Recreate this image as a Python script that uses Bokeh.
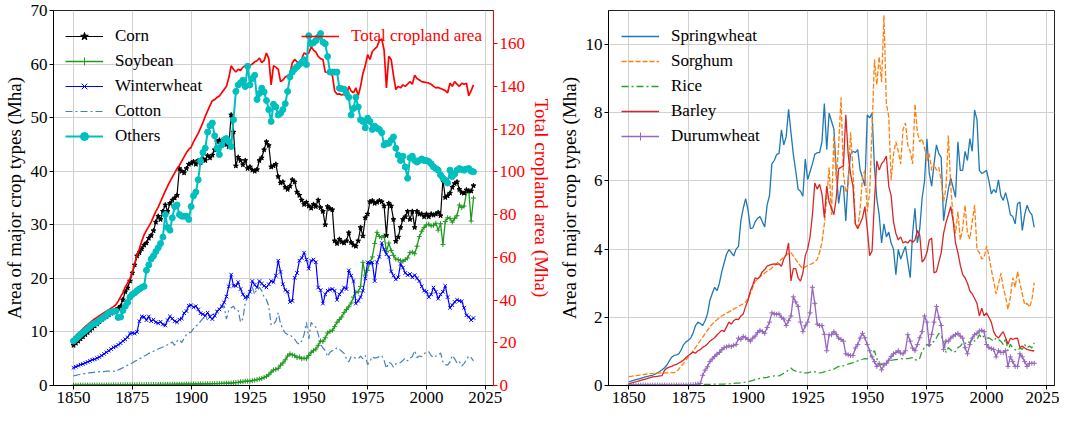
from bokeh.plotting import figure
from bokeh.models import Range1d, LinearAxis, Legend, LegendItem, FixedTicker
from bokeh.layouts import row
from bokeh.embed import file_html
from bokeh.resources import INLINE

# ---------------- data ----------------
years = list(range(1850, 2021))
x_ticks = [1850, 1875, 1900, 1925, 1950, 1975, 2000, 2025]

corn = [
    7.5, 7.9, 8.3, 8.7, 9.1, 9.5, 9.9, 10.3, 10.7, 11.1,
    11.5, 11.9, 12.3, 12.6, 12.9, 13.2, 13.5, 13.8, 14.1, 14.4,
    14.8, 16.0, 17.5, 18.2, 19.5, 21.0, 22.5, 24.2, 24.8, 25.5,
    26.2, 26.6, 27.5, 28.0, 28.9, 30.5, 31.6, 31.0, 32.5, 33.7,
    32.5, 34.0, 34.6, 35.0, 35.5, 40.5, 40.0, 39.7, 40.5, 41.3,
    41.5, 41.8, 41.3, 42.0, 41.6, 42.3, 42.0, 42.9, 42.5, 43.0,
    44.0, 45.5, 45.8, 45.2, 46.0, 45.0, 44.6, 50.5, 47.3, 41.0,
    42.6, 42.0, 41.2, 42.0, 40.5, 40.8, 40.2, 40.0, 40.3, 42.0,
    42.5, 44.0, 45.5, 44.8, 40.8, 41.0, 41.3, 39.0, 37.8, 38.0,
    37.0, 36.6, 37.2, 38.4, 38.0, 36.1, 35.5, 34.6, 33.8, 34.2,
    33.5, 33.1, 33.8, 33.4, 34.6, 33.2, 32.5, 30.0, 33.4, 33.0,
    32.8, 27.0, 26.5, 27.3, 26.8, 26.6, 27.0, 28.5, 26.7, 26.2,
    26.0, 27.0, 29.5, 27.9, 31.3, 32.0, 34.3, 34.5, 34.0, 34.2,
    34.5, 34.3, 33.5, 28.0, 34.0, 33.5, 31.0, 26.9, 27.7, 29.5,
    31.0, 31.5, 32.5, 31.0, 32.5, 29.5, 32.5, 32.0, 32.0, 31.5,
    32.0, 31.5, 32.0, 31.8, 32.0, 32.3, 31.7, 38.4, 35.1, 35.4,
    35.9, 37.0, 37.7, 38.0, 36.6, 36.0, 35.9, 36.5, 36.3, 36.3, 37.3,
]

soybean = [
    0.05, 0.05, 0.05, 0.06, 0.06, 0.06, 0.07, 0.07, 0.07, 0.08,
    0.08, 0.08, 0.09, 0.09, 0.09, 0.10, 0.10, 0.10, 0.11, 0.11,
    0.11, 0.12, 0.12, 0.12, 0.13, 0.13, 0.14, 0.14, 0.15, 0.15,
    0.16, 0.16, 0.17, 0.17, 0.18, 0.18, 0.19, 0.19, 0.20, 0.20,
    0.21, 0.21, 0.22, 0.22, 0.23, 0.23, 0.24, 0.25, 0.25, 0.26,
    0.27, 0.27, 0.28, 0.29, 0.29, 0.30, 0.31, 0.32, 0.33, 0.34,
    0.35, 0.36, 0.37, 0.38, 0.40, 0.42, 0.44, 0.46, 0.50, 0.55,
    0.6, 0.7, 0.7, 0.8, 0.8, 0.8, 0.9, 1.0, 1.1, 1.2,
    1.3, 1.5, 1.7, 2.0, 2.5, 2.9, 3.0, 3.2, 3.8, 4.2,
    4.8, 5.5, 5.9, 5.7, 5.6, 5.2, 5.3, 5.0, 5.1, 5.0,
    5.6, 6.2, 6.5, 6.8, 7.5, 8.3, 8.2, 8.9, 9.8, 10.1,
    10.3, 11.0, 11.8, 12.3, 12.8, 13.6, 14.2, 14.7, 15.4, 16.5,
    17.4, 17.5, 18.5, 23.0, 20.6, 21.5, 23.0, 24.0, 26.5, 28.6,
    27.8, 27.6, 28.0, 25.0, 26.6, 25.2, 24.3, 23.6, 23.5, 23.3,
    23.2, 23.5, 23.8, 24.8, 24.9, 24.6, 26.0, 27.8, 28.8, 29.5,
    30.0, 30.1, 29.8, 29.9, 30.3, 29.0, 30.2, 26.3, 30.6, 31.3,
    31.2, 30.5, 31.2, 31.7, 33.7, 33.2, 33.5, 36.0, 36.3, 30.7, 35.0,
]

winterwheat = [
    3.3, 3.5, 3.7, 3.9, 4.0, 4.2, 4.4, 4.6, 4.8, 4.9,
    5.1, 5.3, 5.6, 5.9, 6.2, 6.5, 6.8, 7.1, 7.3, 7.6,
    7.9, 8.3, 8.6, 9.0, 9.7, 9.8, 9.7, 10.0, 12.0, 12.9,
    12.8, 12.2, 12.9, 12.0, 12.3, 11.8, 11.6, 11.9, 11.4, 11.2,
    12.2, 12.9, 12.5, 12.0, 11.8, 12.3, 12.5, 13.5, 13.9, 14.9,
    15.0, 14.6, 14.8, 14.2, 13.5, 13.3, 13.0, 13.6, 12.8, 12.4,
    13.0, 13.8, 14.2, 14.8, 15.5, 16.6, 18.5, 20.7, 18.6, 18.6,
    19.3, 18.0, 17.0, 16.4, 16.6, 17.5, 19.5, 18.8, 18.3, 19.5,
    19.0, 18.6, 18.3, 18.9, 19.5, 19.3, 20.5, 23.3, 21.2, 18.9,
    17.8, 17.5, 15.6, 15.8, 20.1, 21.0, 23.3, 23.8, 24.8, 23.5,
    21.8, 23.3, 23.5, 23.0, 18.3, 17.8, 15.3, 17.0, 17.7, 17.9,
    18.0, 17.7, 16.0, 17.0, 17.6, 18.3, 18.0, 21.5, 20.5, 19.5,
    15.3, 15.8, 16.5, 17.7, 20.0, 23.0, 22.8, 23.0, 19.5, 23.0,
    24.0, 26.6, 25.4, 24.5, 24.0, 21.3, 20.5, 19.8, 20.2, 22.7,
    22.0, 21.0, 20.6, 20.8, 20.2, 20.6, 20.0, 19.5, 18.5, 17.7,
    17.5, 16.5, 17.0, 18.3, 17.5, 16.2, 17.0, 17.5, 18.6, 16.5,
    14.5, 15.0, 15.6, 16.0, 15.8, 15.7, 14.5, 13.1, 12.8, 12.2, 12.6,
]

cotton = [
    1.8, 1.9, 2.0, 2.1, 2.2, 2.2, 2.3, 2.4, 2.4, 2.5,
    2.5, 2.6, 2.6, 2.6, 2.7, 2.7, 2.7, 2.7, 2.6, 2.9,
    3.1, 3.3, 3.5, 3.8, 4.0, 4.2, 4.5, 4.7, 5.0, 5.2,
    5.5, 5.7, 6.0, 6.2, 6.4, 6.6, 6.8, 7.0, 7.2, 7.4,
    7.6, 7.9, 8.1, 7.5, 8.3, 8.6, 8.0, 8.8, 9.5, 9.8,
    10.0, 10.6, 11.1, 11.4, 12.0, 12.5, 12.8, 12.2, 13.0, 13.2,
    13.5, 14.0, 14.3, 14.6, 14.9, 12.4, 14.0, 14.5, 14.8, 14.0,
    14.0, 11.8, 12.5, 15.5, 16.4, 18.0, 18.3, 17.0, 18.1, 18.3,
    17.7, 16.5, 16.0, 14.8, 11.3, 11.5, 12.0, 13.6, 11.5, 10.5,
    9.8, 9.5, 9.5, 9.0, 8.6, 8.0, 7.7, 8.3, 9.5, 11.8,
    8.7, 11.8, 11.2, 10.9, 9.6, 7.7, 7.0, 6.5, 5.4, 6.2,
    6.5, 6.6, 7.1, 6.8, 6.4, 6.0, 5.0, 4.4, 5.4, 5.3,
    5.1, 5.0, 5.5, 5.0, 5.6, 3.9, 4.5, 5.4, 5.1, 5.2,
    5.4, 5.6, 4.7, 3.2, 4.3, 4.1, 3.4, 4.1, 4.1, 4.3,
    4.7, 5.1, 4.6, 5.1, 5.4, 6.5, 5.2, 5.5, 5.4, 5.9,
    6.3, 6.3, 5.6, 5.2, 5.5, 5.6, 6.1, 4.4, 3.9, 3.8,
    4.4, 5.6, 5.0, 4.2, 4.5, 3.6, 4.1, 4.8, 5.5, 5.2, 4.6,
]

others = [
    8.3, 8.7, 9.1, 9.5, 9.9, 10.2, 10.6, 11.0, 11.4, 11.6,
    11.8, 12.2, 12.5, 12.8, 13.1, 13.6, 13.7, 13.8, 13.9, 12.7,
    12.8, 14.0, 14.8, 15.5, 16.5, 17.0, 17.3, 17.7, 18.0, 18.3,
    18.5, 21.5, 22.5, 23.6, 24.2, 25.0, 25.7, 26.5, 27.7, 31.9,
    29.5, 29.0, 31.3, 33.4, 33.7, 31.9, 31.6, 31.6, 31.6, 31.0,
    33.4, 35.4, 36.1, 38.4, 41.9, 43.5, 44.3, 47.3, 48.5, 49.0,
    46.6, 44.3, 43.1, 44.9, 45.8, 46.1, 45.5, 44.6, 49.6, 54.9,
    56.1, 56.5, 57.0, 55.8, 59.6, 56.1, 57.3, 57.9, 53.4, 54.5,
    55.5, 54.8, 53.2, 51.5, 49.3, 52.5, 52.0, 50.5, 50.8, 51.5,
    52.6, 54.9, 57.6, 58.5, 59.1, 59.5, 59.9, 60.3, 60.8, 59.9,
    65.3, 63.8, 64.0, 64.4, 65.0, 65.7, 64.1, 63.8, 61.4, 58.5,
    58.5, 58.5, 58.5, 55.5, 55.4, 55.3, 54.5, 53.8, 50.5, 51.7,
    53.8, 52.0, 49.6, 49.3, 48.1, 49.9, 49.3, 47.8, 48.4, 48.0,
    47.8, 47.2, 44.9, 45.2, 45.2, 45.8, 46.4, 44.3, 43.0, 42.0,
    42.8, 40.8, 38.7, 42.5, 42.8, 42.0, 41.7, 42.0, 42.3, 42.0,
    42.0, 41.8, 41.4, 40.8, 40.5, 40.2, 39.3, 38.7, 38.3, 37.8,
    40.2, 39.0, 39.5, 40.2, 40.5, 40.3, 40.2, 40.4, 40.5, 40.0, 39.9,
]

total_cropland = [
    22.2, 23.3, 24.4, 25.5, 26.5, 27.5, 28.5, 29.4, 30.3, 31.1,
    31.9, 32.7, 33.4, 34.1, 34.8, 35.5, 36.2, 36.9, 37.8, 39.5,
    41.5, 43.5, 46.0, 48.0, 50.0, 53.0, 57.0, 61.0, 64.0, 67.5,
    70.5, 72.6, 74.5, 76.5, 79.0, 81.5, 83.5, 86.0, 88.5, 91.0,
    93.3, 95.5, 97.5, 99.5, 101.5, 103.0, 105.0, 107.0, 109.0, 110.5,
    111.5, 114.0, 116.0, 118.0, 120.5, 123.0, 126.0, 128.5, 131.0, 133.3,
    133.8, 134.8, 135.5, 137.0, 138.5, 140.0, 144.0, 149.6, 148.0, 146.7,
    148.0, 147.4, 149.0, 149.6, 149.8, 150.0, 150.4, 151.5, 152.0, 153.3,
    151.1, 152.0, 155.6, 153.0, 140.7, 149.6, 149.0, 148.0, 142.2, 143.0,
    144.4, 145.0, 146.0, 151.0, 152.6, 151.5, 151.0, 153.0, 155.6, 155.0,
    155.6, 158.5, 157.0, 156.0, 154.0, 153.0, 152.6, 146.7, 146.5, 146.0,
    145.2, 137.8, 136.3, 136.5, 136.0, 136.3, 135.6, 140.0, 137.8, 137.0,
    139.3, 135.6, 140.0, 146.0, 149.6, 154.8, 152.6, 156.3, 157.5, 158.5,
    161.5, 162.2, 157.0, 139.3, 154.1, 152.6, 145.0, 138.5, 140.0, 139.3,
    140.7, 140.0, 141.0, 142.2, 141.0, 145.2, 143.7, 143.0, 142.2, 142.0,
    141.8, 141.5, 141.0, 140.0, 139.3, 139.5, 139.0, 138.5, 138.0, 137.0,
    141.5, 140.0, 142.2, 141.0, 140.0, 141.5, 141.0, 141.5, 135.6, 138.0, 140.7,
]

springwheat = [
    0.11, 0.13, 0.15, 0.17, 0.19, 0.21, 0.23, 0.25, 0.27, 0.29,
    0.30, 0.33, 0.37, 0.41, 0.46, 0.52, 0.60, 0.72, 0.83, 0.88,
    0.90, 0.93, 1.05, 1.20, 1.28, 1.33, 1.39, 1.55, 1.76, 1.86,
    1.82, 1.76, 1.90, 2.10, 2.50, 2.70, 2.88, 2.78, 3.00, 3.34,
    3.60, 3.85, 3.99, 3.90, 3.80, 4.00, 4.08, 4.83, 5.20, 5.48,
    5.15, 4.60, 4.62, 4.80, 4.90, 4.96, 4.80, 4.65, 5.29, 5.57,
    6.50, 6.60, 6.78, 6.80, 7.50, 7.06, 7.30, 8.10, 7.43, 6.78,
    6.30, 5.76, 5.70, 5.55, 6.64, 6.04, 6.27, 6.50, 6.78, 6.83,
    6.83, 7.15, 8.27, 6.92, 7.99, 7.75, 7.52, 6.30, 5.34, 5.85,
    5.85, 4.83, 6.10, 6.78, 6.87, 6.83, 6.92, 6.32, 6.10, 5.85,
    7.94, 7.85, 7.99, 6.41, 5.48, 5.00, 4.18, 4.74, 4.36, 4.50,
    4.18, 4.00, 3.25, 3.99, 3.71, 3.90, 4.08, 3.62, 3.16, 4.46,
    5.20, 4.18, 4.60, 5.50, 5.99, 7.24, 6.22, 5.85, 6.50, 7.06,
    6.80, 6.69, 4.83, 5.34, 5.76, 6.08, 5.80, 5.52, 7.15, 6.31,
    6.31, 6.87, 6.60, 7.24, 6.87, 8.08, 7.80, 6.31, 6.22, 6.26,
    6.31, 6.00, 5.62, 5.75, 5.66, 6.03, 5.57, 5.43, 5.66, 5.38,
    5.01, 4.96, 4.74, 5.34, 5.38, 4.55, 5.01, 5.29, 5.10, 5.01, 4.64,
]

sorghum = [
    0.26, 0.27, 0.28, 0.29, 0.30, 0.31, 0.32, 0.33, 0.34, 0.35,
    0.35, 0.36, 0.36, 0.37, 0.37, 0.37, 0.37, 0.37, 0.38, 0.38,
    0.40, 0.48, 0.57, 0.65, 0.75, 0.84, 0.93, 1.02, 1.12, 1.22,
    1.32, 1.42, 1.52, 1.62, 1.72, 1.80, 1.87, 1.93, 1.99, 2.04,
    2.08, 2.12, 2.16, 2.20, 2.24, 2.28, 2.32, 2.36, 2.40, 2.45,
    2.55, 2.70, 2.88, 3.06, 3.12, 3.18, 3.24, 3.30, 3.35, 3.39,
    3.45, 3.51, 3.58, 3.64, 3.70, 3.76, 3.82, 3.88, 3.90, 3.80,
    3.70, 3.60, 3.50, 3.43, 3.48, 3.52, 3.55, 3.58, 3.62, 3.70,
    3.90, 4.20, 4.74, 5.50, 6.40, 5.00, 7.33, 6.00, 7.05, 8.45,
    6.22, 5.66, 5.85, 7.43, 6.31, 4.74, 4.64, 5.15, 6.13, 6.31,
    5.10, 5.66, 7.50, 9.56, 8.82, 9.65, 8.90, 10.86, 8.26, 7.89,
    6.03, 6.78, 7.15, 6.87, 6.50, 7.52, 7.70, 7.05, 6.87, 6.50,
    8.26, 7.43, 7.15, 7.24, 6.96, 6.59, 6.80, 6.31, 6.50, 6.31,
    6.40, 6.00, 5.39, 5.80, 7.33, 5.85, 4.92, 4.46, 5.10, 4.27,
    4.60, 5.29, 4.46, 4.30, 4.80, 5.29, 3.99, 3.90, 3.71, 3.75,
    4.09, 3.81, 3.40, 3.06, 2.69, 2.97, 3.29, 2.88, 2.60, 2.23,
    2.60, 3.16, 2.88, 3.34, 3.00, 2.69, 2.37, 2.41, 2.30, 2.50, 3.02,
]

rice = [
    0.01, 0.01, 0.01, 0.01, 0.01, 0.01, 0.01, 0.01, 0.01, 0.01,
    0.01, 0.01, 0.01, 0.01, 0.01, 0.01, 0.01, 0.01, 0.01, 0.01,
    0.01, 0.01, 0.01, 0.01, 0.01, 0.02, 0.02, 0.02, 0.02, 0.02,
    0.02, 0.02, 0.03, 0.03, 0.03, 0.03, 0.04, 0.04, 0.04, 0.04,
    0.04, 0.05, 0.05, 0.06, 0.06, 0.07, 0.07, 0.08, 0.09, 0.10,
    0.11, 0.13, 0.15, 0.17, 0.19, 0.21, 0.22, 0.23, 0.24, 0.26,
    0.27, 0.28, 0.28, 0.28, 0.32, 0.36, 0.40, 0.46, 0.51, 0.45,
    0.42, 0.40, 0.39, 0.38, 0.37, 0.37, 0.39, 0.42, 0.40, 0.38,
    0.37, 0.38, 0.40, 0.42, 0.44, 0.46, 0.48, 0.52, 0.56, 0.55,
    0.58, 0.60, 0.63, 0.65, 0.67, 0.70, 0.72, 0.74, 0.77, 0.79,
    0.78, 0.84, 0.92, 1.02, 0.79, 0.60, 0.62, 0.65, 0.68, 0.71,
    0.74, 0.75, 0.76, 0.77, 0.79, 0.78, 0.79, 0.79, 0.80, 0.82,
    0.76, 0.74, 0.80, 1.02, 1.11, 1.21, 1.15, 1.25, 1.30, 1.40,
    1.53, 1.45, 1.30, 0.97, 1.11, 1.05, 0.97, 1.00, 1.11, 1.15,
    1.25, 1.22, 1.30, 1.25, 1.39, 1.30, 1.35, 1.49, 1.39, 1.45,
    1.39, 1.40, 1.35, 1.30, 1.39, 1.35, 1.30, 1.20, 1.39, 1.02,
    1.21, 1.10, 1.05, 1.02, 1.10, 1.06, 1.20, 1.10, 1.16, 1.10, 1.25,
]

barley = [
    0.05, 0.07, 0.09, 0.11, 0.13, 0.15, 0.17, 0.19, 0.21, 0.23,
    0.25, 0.26, 0.27, 0.28, 0.29, 0.45, 0.51, 0.54, 0.56, 0.60,
    0.62, 0.66, 0.70, 0.75, 0.82, 0.88, 0.93, 0.98, 0.95, 1.02,
    1.05, 1.12, 1.16, 1.22, 1.30, 1.35, 1.40, 1.48, 1.55, 1.62,
    1.58, 1.72, 1.86, 1.80, 1.90, 1.95, 1.93, 2.04, 2.10, 2.32,
    2.50, 2.78, 2.95, 3.16, 3.12, 3.20, 3.34, 3.40, 3.50, 3.53,
    3.55, 3.57, 3.55, 3.57, 3.50, 3.71, 3.85, 4.18, 3.07, 3.43,
    3.43, 3.16, 3.06, 3.30, 3.81, 4.00, 4.36, 5.00, 5.94, 5.76,
    5.90, 5.62, 4.92, 5.85, 5.38, 5.20, 5.01, 5.50, 6.36, 6.40,
    6.45, 7.94, 6.78, 6.20, 5.85, 4.74, 4.60, 4.75, 4.92, 5.25,
    4.60, 3.81, 3.95, 5.38, 6.59, 6.32, 6.50, 6.59, 6.73, 5.85,
    5.57, 4.80, 4.46, 4.27, 4.36, 4.18, 4.22, 4.18, 4.27, 4.20,
    4.27, 4.55, 4.41, 3.62, 3.71, 3.90, 4.27, 4.32, 3.30, 3.34,
    3.62, 3.90, 4.46, 4.78, 5.01, 5.25, 4.83, 4.18, 3.90, 3.53,
    3.25, 3.16, 3.00, 2.78, 2.69, 2.55, 2.41, 2.04, 2.27, 2.04,
    2.13, 2.00, 1.86, 1.58, 1.45, 1.39, 1.49, 1.58, 1.40, 1.21,
    1.39, 1.35, 1.38, 1.39, 1.11, 1.16, 1.10, 1.06, 1.04, 1.02, 1.02,
]

durumwheat = [
    0.01, 0.01, 0.01, 0.01, 0.01, 0.01, 0.01, 0.01, 0.01, 0.01,
    0.01, 0.01, 0.01, 0.01, 0.01, 0.01, 0.01, 0.01, 0.01, 0.01,
    0.01, 0.01, 0.01, 0.01, 0.01, 0.02, 0.02, 0.02, 0.03, 0.04,
    0.06, 0.30, 0.45, 0.55, 0.70, 0.78, 0.85, 0.92, 0.97, 1.05,
    1.11, 1.13, 1.16, 1.14, 1.18, 1.20, 1.39, 1.35, 1.44, 1.40,
    1.35, 1.30, 1.39, 1.45, 1.55, 1.62, 1.58, 1.53, 1.70, 1.86,
    2.13, 2.10, 2.09, 2.10, 2.00, 1.95, 1.76, 1.90, 2.04, 2.60,
    2.45, 2.32, 1.86, 1.58, 1.75, 1.86, 2.13, 2.88, 2.41, 1.80,
    1.76, 1.76, 1.50, 1.02, 1.49, 1.49, 1.58, 1.50, 1.39, 1.35,
    1.30, 0.93, 0.90, 0.88, 0.88, 1.10, 1.20, 1.39, 1.53, 1.40,
    1.20, 1.02, 0.84, 0.70, 0.56, 0.65, 0.46, 0.60, 0.65, 0.74,
    0.85, 0.93, 0.97, 1.02, 0.95, 0.93, 1.02, 1.49, 1.30, 1.10,
    1.02, 1.20, 1.40, 1.58, 2.04, 1.86, 1.20, 1.50, 1.86, 2.32,
    2.00, 1.76, 1.06, 1.30, 1.30, 1.39, 1.45, 1.49, 1.53, 1.45,
    1.39, 1.11, 0.93, 1.20, 1.39, 1.49, 1.53, 1.60, 1.62, 1.58,
    1.20, 1.11, 1.08, 1.06, 0.84, 1.02, 0.97, 0.97, 1.02, 0.56,
    0.84, 0.70, 0.56, 0.56, 0.93, 0.84, 0.70, 0.56, 0.65, 0.65, 0.65,
]

# ---------------- styling ----------------
FONT = "Liberation Serif"
TICK_FS = "17px"
LABEL_FS = "19px"
LEG_FS = "17px"
H = 413
TOP = 10
BOTTOM = 28
FRAME_H = H - TOP - BOTTOM


def style_axis(ax, color="black"):
    ax.axis_line_color = color
    ax.major_tick_line_color = color
    ax.major_tick_out = 4
    ax.major_tick_in = 0
    ax.minor_tick_line_color = None
    ax.major_label_text_font = FONT
    ax.major_label_text_font_size = TICK_FS
    ax.major_label_text_color = color
    ax.major_label_standoff = 2
    ax.axis_label_text_font = FONT
    ax.axis_label_text_font_size = LABEL_FS
    ax.axis_label_text_font_style = "normal"
    ax.axis_label_text_color = color
    ax.axis_label_standoff = 3


def make_fig(width, y_range, bl, br):
    p = figure(width=width, height=H, x_range=Range1d(1841.5, 2028.5),
               y_range=y_range, output_backend="svg", toolbar_location=None,
               min_border_left=bl, min_border_right=br,
               min_border_top=TOP, min_border_bottom=BOTTOM)
    p.outline_line_color = "#262626"
    p.outline_line_width = 1
    p.xaxis.ticker = FixedTicker(ticks=x_ticks)
    for g in (p.xgrid[0], p.ygrid[0]):
        g.grid_line_color = "#d0d0d0"
        g.grid_line_width = 1
    return p


def make_legend(items, location, color="black"):
    return Legend(items=items, location=location, margin=0, padding=2,
                  spacing=5, glyph_width=38, glyph_height=20, label_height=20,
                  label_standoff=12, label_text_font=FONT,
                  label_text_font_size=LEG_FS, label_text_color=color,
                  border_line_color=None, background_fill_alpha=0)


def legend_bottom(n_rows):
    box_h = n_rows * 20 + (n_rows - 1) * 5 + 4
    return FRAME_H - 12 - box_h


# ---------------- left panel ----------------
p1 = make_fig(555, Range1d(0, 70), 47, 56)
p1.yaxis.ticker = FixedTicker(ticks=[0, 10, 20, 30, 40, 50, 60, 70])
p1.yaxis.axis_label = "Area of major crop types (Mha)"
p1.extra_y_ranges = {"total": Range1d(0, 175.5)}
ax_r = LinearAxis(y_range_name="total", axis_label="Total cropland area (Mha)",
                  ticker=FixedTicker(ticks=[0, 20, 40, 60, 80, 100, 120, 140, 160]))
p1.add_layout(ax_r, "right")
for ax in p1.axis:
    style_axis(ax, "black")
style_axis(ax_r, "#ff0000")

SOY = "#1f9a1f"
cotton_l = p1.line(years, cotton, line_color="#4682b4", line_width=1.2, line_dash="7 3 2 3")
soy_l = p1.line(years, soybean, line_color=SOY, line_width=1.3)
soy_s = p1.scatter(years, soybean, marker="cross", size=5, line_color=SOY, line_width=1)
ww_l = p1.line(years, winterwheat, line_color="#0000ff", line_width=1.2)
ww_s = p1.scatter(years, winterwheat, marker="x", size=5, line_color="#0000ff", line_width=1)
corn_l = p1.line(years, corn, line_color="black", line_width=1.2)
corn_s = p1.scatter(years, corn, marker="star", size=5, color="black")
tot_l = p1.line(years, total_cropland, y_range_name="total", line_color="#ff0000", line_width=1.7)
oth_l = p1.line(years, others, line_color="#00bfbf", line_width=2)
oth_s = p1.scatter(years, others, marker="circle", size=6, color="#00bfbf")

leg1 = make_legend([
    LegendItem(label="Corn", renderers=[corn_l, corn_s]),
    LegendItem(label="Soybean", renderers=[soy_l, soy_s]),
    LegendItem(label="Winterwheat", renderers=[ww_l, ww_s]),
    LegendItem(label="Cotton", renderers=[cotton_l]),
    LegendItem(label="Others", renderers=[oth_l, oth_s]),
], (12, legend_bottom(5)))
p1.add_layout(leg1)
leg2 = make_legend([LegendItem(label="Total cropland area", renderers=[tot_l])],
                   (248, legend_bottom(1)), color="#ff0000")
p1.add_layout(leg2)

# ---------------- right panel ----------------
p2 = make_fig(504, Range1d(0, 11), 47, 5)
p2.yaxis.ticker = FixedTicker(ticks=[0, 2, 4, 6, 8, 10])
p2.yaxis.axis_label = "Area of major crop types (Mha)"
for ax in p2.axis:
    style_axis(ax, "black")

sw_l = p2.line(years, springwheat, line_color="#1f77b4", line_width=1.3)
so_l = p2.line(years, sorghum, line_color="#ff7f0e", line_width=1.3, line_dash="5 2")
ri_l = p2.line(years, rice, line_color="#2ca02c", line_width=1.3, line_dash="7 3 2 3")
ba_l = p2.line(years, barley, line_color="#d62728", line_width=1.3)
du_l = p2.line(years, durumwheat, line_color="#9467bd", line_width=1.3)
du_s = p2.scatter(years, durumwheat, marker="cross", size=5, line_color="#9467bd", line_width=1)

leg3 = make_legend([
    LegendItem(label="Springwheat", renderers=[sw_l]),
    LegendItem(label="Sorghum", renderers=[so_l]),
    LegendItem(label="Rice", renderers=[ri_l]),
    LegendItem(label="Barley", renderers=[ba_l]),
    LegendItem(label="Durumwheat", renderers=[du_l, du_s]),
], (13, legend_bottom(5)))
p2.add_layout(leg3)

layout = row(p1, p2)
open("out.html", "w").write(file_html(layout, INLINE))
